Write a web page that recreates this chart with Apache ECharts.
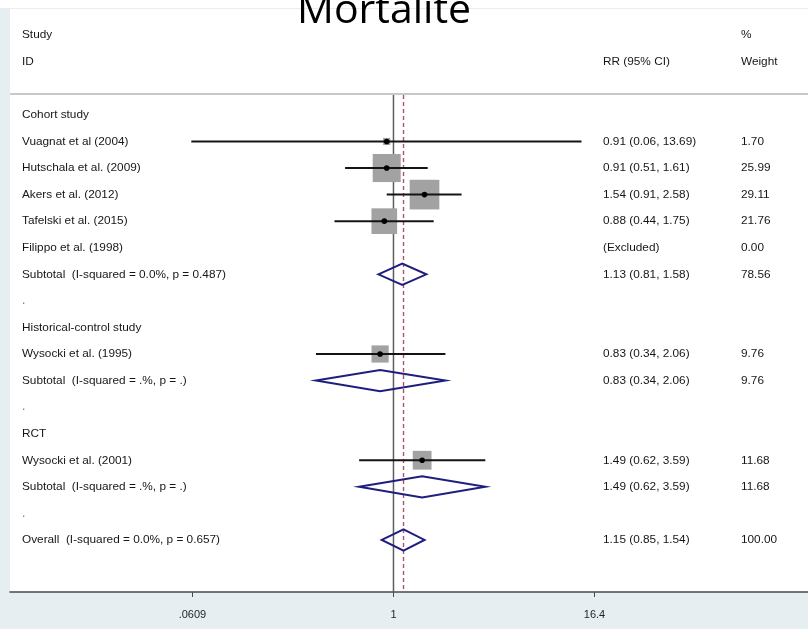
<!DOCTYPE html>
<html>
<head>
<meta charset="utf-8">
<title>Mortalite</title>
<script src="https://cdn.jsdelivr.net/npm/echarts@6/dist/echarts.min.js"></script>
<style>
  html, body { margin: 0; padding: 0; background: #ffffff; }
  #chart { width: 808px; height: 629px; }
</style>
</head>
<body>
<div id="chart"></div>
<script>
// Forest plot rows, top to bottom (row index = position in these arrays)
const ROW_LABELS = [
  'Cohort study',
  'Vuagnat et al (2004)',
  'Hutschala et al. (2009)',
  'Akers et al. (2012)',
  'Tafelski et al. (2015)',
  'Filippo et al. (1998)',
  'Subtotal  (I-squared = 0.0%, p = 0.487)',
  '.',
  'Historical-control study',
  'Wysocki et al. (1995)',
  'Subtotal  (I-squared = .%, p = .)',
  '.',
  'RCT',
  'Wysocki et al. (2001)',
  'Subtotal  (I-squared = .%, p = .)',
  '.',
  'Overall  (I-squared = 0.0%, p = 0.657)'
];
const ROW_TYPES = [
  'group', 'study', 'study', 'study', 'study', 'excluded', 'pooled', 'gap',
  'group', 'study', 'pooled', 'gap',
  'group', 'study', 'pooled', 'gap',
  'pooled'
];
// Relative risk with 95% CI and % weight
const RR     = [null, 0.91, 0.91, 1.54, 0.88, null, 1.13, null, null, 0.83, 0.83, null, null, 1.49, 1.49, null, 1.15];
const CI_LO  = [null, 0.06, 0.51, 0.91, 0.44, null, 0.81, null, null, 0.34, 0.34, null, null, 0.62, 0.62, null, 0.85];
const CI_HI  = [null, 13.69, 1.61, 2.58, 1.75, null, 1.58, null, null, 2.06, 2.06, null, null, 3.59, 3.59, null, 1.54];
const WEIGHT = [null, 1.70, 25.99, 29.11, 21.76, 0.00, 78.56, null, null, 9.76, 9.76, null, null, 11.68, 11.68, null, 100.00];

// Column headers
const HEAD_STUDY  = ['Study', 'ID'];
const HEAD_EFFECT = 'RR (95% CI)';
const HEAD_WEIGHT = ['%', 'Weight'];

// x axis ticks (ratio scale)
const X_TICKS = [0.0609, 1, 16.4];
const X_TICK_LABELS = ['.0609', '1', '16.4'];
const NULL_EFFECT = 1;

// ---------------------------------------------------------------
const ln = Math.log;
const OVERALL_RR = RR[ROW_TYPES.lastIndexOf('pooled')];
const X_MIN = -5.337, X_MAX = 5.769;       // log-ratio extent of the plot panel
const Y_MIN = -4.025, Y_MAX = 17.96;       // row extent (headers sit at rows -3 and -2)
const LINE_TOP = -0.75;                    // reference lines start under the header rule
const TEXT_FONT = '"Liberation Sans", Arial, sans-serif';
const TEXT_COLOR = '#161616';

const fmt2 = v => v.toFixed(2);

// Row text for each of the three text columns
const leftText = {}, effectText = {}, weightText = {};
leftText[-3] = HEAD_STUDY[0]; leftText[-2] = HEAD_STUDY[1];
effectText[-2] = HEAD_EFFECT;
weightText[-3] = HEAD_WEIGHT[0]; weightText[-2] = HEAD_WEIGHT[1];
ROW_LABELS.forEach((name, i) => {
  leftText[i] = name;
  if (RR[i] != null) effectText[i] = `${fmt2(RR[i])} (${fmt2(CI_LO[i])}, ${fmt2(CI_HI[i])})`;
  else if (ROW_TYPES[i] === 'excluded') effectText[i] = '(Excluded)';
  if (WEIGHT[i] != null) weightText[i] = fmt2(WEIGHT[i]);
});
const rowsOf = obj => Object.keys(obj).map(Number);

// Marks
const studyData = [], pooledData = [];
ROW_TYPES.forEach((t, i) => {
  if (RR[i] == null) return;
  const item = [ln(CI_LO[i]), ln(CI_HI[i]), ln(RR[i]), i, WEIGHT[i]];
  if (t === 'study') studyData.push(item);
  if (t === 'pooled') pooledData.push(item);
});

const BOX_SCALE = 5.5;       // px per sqrt(% weight)
const DIAMOND_HALF = 0.4;    // rows

function textAxis(position, map, margin) {
  return {
    type: 'value', position, min: Y_MIN, max: Y_MAX, inverse: true,
    axisLine: { show: false }, axisTick: { show: false }, splitLine: { show: false },
    axisLabel: {
      inside: true, align: 'left', margin,
      customValues: rowsOf(map),
      fontFamily: TEXT_FONT, fontSize: 11.8, color: TEXT_COLOR,
      formatter: v => {
        const s = map[Math.round(v)] || '';
        return s === '.' ? '{dot|.}' : s;
      },
      rich: { dot: { color: '#7a7a7a', fontSize: 12, fontFamily: TEXT_FONT } }
    }
  };
}

const chart = echarts.init(document.getElementById('chart'), null, { renderer: 'canvas' });
chart.setOption({
  backgroundColor: '#ffffff',
  animation: false,
  title: {
    text: 'Mortalite', left: 292, top: -14,
    textStyle: { fontFamily: '"Open Sans", sans-serif', fontSize: 41, fontWeight: 'normal', color: '#000000' }
  },
  graphic: [
    { type: 'rect', left: 0, top: 8, z: -10, shape: { width: 10, height: 584 }, style: { fill: '#e6eef1' } },
    { type: 'rect', left: 0, top: 592, z: -10, shape: { width: 808, height: 37 }, style: { fill: '#e6eef1' } },
    { type: 'rect', left: 10, top: 8, z: -10, shape: { width: 798, height: 1 }, style: { fill: '#ececec' } }
  ],
  grid: { left: 10, right: 0, top: 8, bottom: 37, containLabel: false },
  xAxis: {
    type: 'value', min: X_MIN, max: X_MAX,
    axisLine: { show: true, onZero: false, lineStyle: { color: '#4a4a4a', width: 1.5 } },
    axisTick: { show: true, length: 5, customValues: X_TICKS.map(ln), lineStyle: { color: '#4a4a4a', width: 1 } },
    splitLine: { show: false },
    axisLabel: {
      margin: 17, customValues: X_TICKS.map(ln),
      fontFamily: TEXT_FONT, fontSize: 11, color: '#262626',
      formatter: v => {
        let best = 0;
        X_TICKS.forEach((t, k) => { if (Math.abs(ln(t) - v) < Math.abs(ln(X_TICKS[best]) - v)) best = k; });
        return X_TICK_LABELS[best];
      }
    }
  },
  yAxis: [
    textAxis('left', leftText, 12),
    textAxis('right', effectText, 205),
    textAxis('right', weightText, 67)
  ],
  series: [
    {
      // header rule
      type: 'line', data: [], silent: true,
      markLine: {
        symbol: 'none', silent: true, label: { show: false },
        lineStyle: { color: '#c8c8c8', width: 2, type: 'solid' },
        data: [{ yAxis: -0.78 }]
      }
    },
    {
      // no-effect line
      type: 'line', symbol: 'none', silent: true, z: 1,
      lineStyle: { color: '#5e5e5e', width: 1.5 },
      data: [[ln(NULL_EFFECT), LINE_TOP], [ln(NULL_EFFECT), Y_MAX]]
    },
    {
      // overall estimate line
      type: 'line', symbol: 'none', silent: true, z: 1,
      lineStyle: { color: '#b0506a', width: 1.4, type: [4, 3] },
      data: [[ln(OVERALL_RR), LINE_TOP], [ln(OVERALL_RR), Y_MAX]]
    },
    {
      // individual studies: weighted box, CI line, point estimate
      type: 'custom', z: 3,
      encode: { x: [0, 1, 2], y: 3 },
      data: studyData,
      renderItem: (params, api) => {
        const row = api.value(3);
        const lo = api.coord([api.value(0), row]);
        const hi = api.coord([api.value(1), row]);
        const c = api.coord([api.value(2), row]);
        const side = BOX_SCALE * Math.sqrt(api.value(4));
        return {
          type: 'group',
          children: [
            { type: 'rect', shape: { x: c[0] - side / 2, y: c[1] - side / 2, width: side, height: side }, style: { fill: '#a2a2a2' } },
            { type: 'line', shape: { x1: lo[0], y1: lo[1], x2: hi[0], y2: hi[1] }, style: { stroke: '#141414', lineWidth: 2 } },
            { type: 'circle', shape: { cx: c[0], cy: c[1], r: 2.8 }, style: { fill: '#000000' } }
          ]
        };
      }
    },
    {
      // pooled estimates: diamonds
      type: 'custom', z: 3,
      encode: { x: [0, 1, 2], y: 3 },
      data: pooledData,
      renderItem: (params, api) => {
        const row = api.value(3);
        const pts = [
          api.coord([api.value(0), row]),
          api.coord([api.value(2), row - DIAMOND_HALF]),
          api.coord([api.value(1), row]),
          api.coord([api.value(2), row + DIAMOND_HALF])
        ];
        return {
          type: 'polygon', shape: { points: pts },
          style: { fill: 'none', stroke: '#1e1e7e', lineWidth: 2, lineJoin: 'miter' }
        };
      }
    }
  ]
});
</script>
</body>
</html>
